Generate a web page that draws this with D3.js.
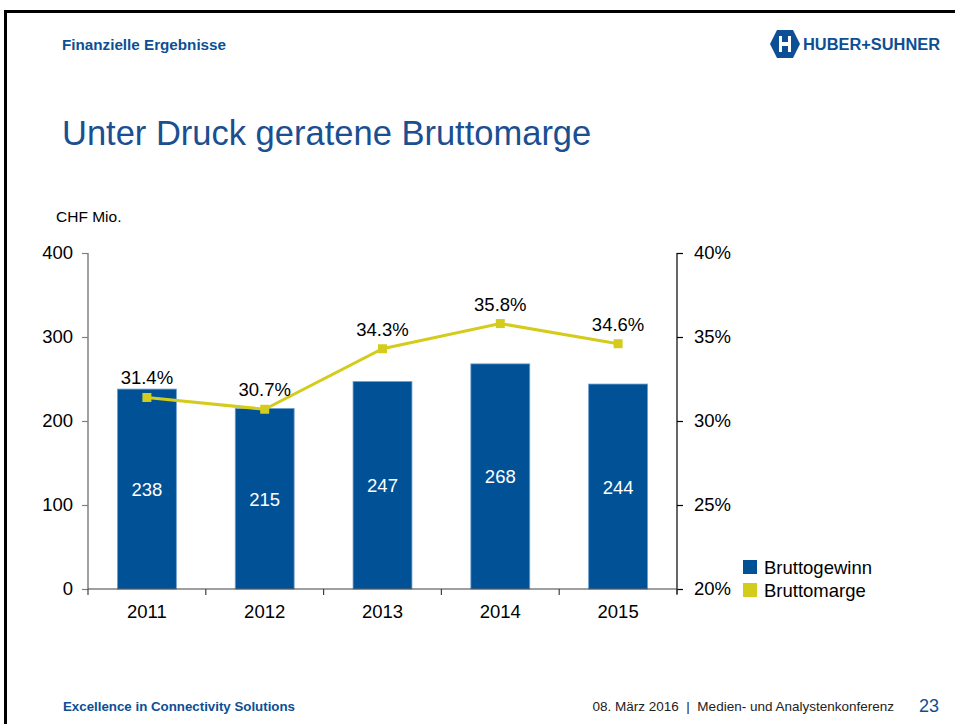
<!DOCTYPE html>
<html>
<head>
<meta charset="utf-8">
<script src="https://cdn.jsdelivr.net/npm/d3@7"></script>
<style>
  body { margin: 0; background: #fff; }
  svg { display: block; font-family: Arial, "Liberation Sans", sans-serif; }
</style>
</head>
<body>
<svg id="chart" width="955" height="724"></svg>
<script>
const years = ['2011', '2012', '2013', '2014', '2015']
const bruttogewinn = [238, 215, 247, 268, 244]
const bruttomarge = [31.4, 30.7, 34.3, 35.8, 34.6]
const leftTicks = [0, 100, 200, 300, 400]
const rightTicks = [20, 25, 30, 35, 40]
const legendLabels = ['Bruttogewinn', 'Bruttomarge']

const blue = '#005196'
const yellow = '#d4cc1c'
const textBlue = '#0d4f94'
const fs = '18.5px'

const svg = d3.select('#chart')
const margin = { left: 88, right: 677, top: 253, bottom: 589 }

// slide frame
svg.append('path')
  .attr('d', 'M5.5,724 L5.5,11.5 L955,11.5')
  .attr('fill', 'none')
  .attr('stroke', '#000')
  .attr('stroke-width', 3)

// header
svg.append('text')
  .attr('x', 62).attr('y', 50)
  .attr('fill', textBlue)
  .style('font-weight', 'bold')
  .style('font-size', '14px')
  .attr('textLength', 164)
  .attr('lengthAdjust', 'spacingAndGlyphs')
  .text('Finanzielle Ergebnisse')

// logo
const logo = svg.append('g').attr('transform', 'translate(770,30)')
logo.append('path')
  .attr('d', 'M7,0 L23,0 L30,14 L23,28 L7,28 L0,14 Z')
  .attr('fill', textBlue)
logo.append('path')
  .attr('d', 'M9,6 L12,6 L12,12 L18,12 L18,6 L21,6 L21,22 L18,22 L18,16 L12,16 L12,22 L9,22 Z')
  .attr('fill', '#fff')
logo.append('text')
  .attr('x', 33).attr('y', 20)
  .attr('fill', textBlue)
  .style('font-weight', 'bold')
  .style('font-size', '16px')
  .attr('textLength', 137)
  .attr('lengthAdjust', 'spacingAndGlyphs')
  .text('HUBER+SUHNER')

// title
svg.append('text')
  .attr('x', 62).attr('y', 145)
  .attr('fill', '#1a4f92')
  .style('font-size', '34.5px')
  .text('Unter Druck geratene Bruttomarge')

svg.append('text')
  .attr('x', 56).attr('y', 222)
  .attr('fill', '#000')
  .style('font-size', '15.5px')
  .text('CHF Mio.')

// scales
const x = d3.scaleBand()
  .domain(years)
  .range([margin.left, margin.right])
  .paddingInner(0.5)
  .paddingOuter(0.25)

const yLeft = d3.scaleLinear().domain([0, 400]).range([margin.bottom, margin.top])
const yRight = d3.scaleLinear().domain([20, 40]).range([margin.bottom, margin.top])

// bars
svg.append('g')
  .selectAll('rect')
  .data(years)
  .enter()
  .append('rect')
  .attr('x', d => x(d))
  .attr('width', x.bandwidth())
  .attr('y', (d, i) => yLeft(bruttogewinn[i]))
  .attr('height', (d, i) => yLeft(0) - yLeft(bruttogewinn[i]))
  .attr('fill', blue)
  .attr('stroke', '#6f9fd0')
  .attr('stroke-width', 0.8)

svg.append('g')
  .selectAll('text')
  .data(years)
  .enter()
  .append('text')
  .attr('x', d => x(d) + x.bandwidth() / 2)
  .attr('y', (d, i) => (yLeft(bruttogewinn[i]) + yLeft(0)) / 2 + 7)
  .attr('text-anchor', 'middle')
  .attr('fill', '#fff')
  .style('font-size', fs)
  .text((d, i) => bruttogewinn[i])

// left axis
const leftAxis = svg.append('g')
  .attr('transform', `translate(${margin.left},0)`)
  .call(d3.axisLeft(yLeft).tickValues(leftTicks).tickSize(6).tickPadding(9))
leftAxis.select('.domain').attr('stroke', '#808080').attr('stroke-width', 1.5).attr('d', `M0,${margin.top}V${margin.bottom}`)
leftAxis.selectAll('.tick line').attr('stroke', '#808080').attr('stroke-width', 1.2)
leftAxis.selectAll('.tick text')
  .attr('fill', '#000')
  .style('font-size', fs)
  .style('font-family', 'Arial, "Liberation Sans", sans-serif')

// right axis
const rightAxis = svg.append('g')
  .attr('transform', `translate(${margin.right},0)`)
  .call(d3.axisRight(yRight).tickValues(rightTicks).tickSize(6).tickPadding(11).tickFormat(d => d + '%'))
rightAxis.select('.domain').attr('stroke', '#000').attr('stroke-width', 1.2).attr('d', `M0,${margin.top}V${margin.bottom + 5}`)
rightAxis.selectAll('.tick line').attr('stroke', '#000').attr('stroke-width', 1.2)
rightAxis.selectAll('.tick text')
  .attr('fill', '#000')
  .style('font-size', fs)
  .style('font-family', 'Arial, "Liberation Sans", sans-serif')

// bottom axis
const bottomAxis = svg.append('g')
  .attr('transform', `translate(0,${margin.bottom})`)
  .call(d3.axisBottom(x).tickSize(0).tickPadding(16))
bottomAxis.select('.domain').attr('stroke', '#404040').attr('stroke-width', 1.2).attr('d', `M${margin.left},0H${margin.right}`)
bottomAxis.selectAll('.tick text')
  .attr('fill', '#000')
  .style('font-size', fs)
  .style('font-family', 'Arial, "Liberation Sans", sans-serif')

const step = x.step()
bottomAxis.selectAll('.sep')
  .data(d3.range(years.length + 1))
  .enter()
  .append('line')
  .attr('x1', i => margin.left + i * step)
  .attr('x2', i => margin.left + i * step)
  .attr('y1', 0).attr('y2', 6)
  .attr('stroke', '#404040')
  .attr('stroke-width', 1.2)

// line series
const cx = d => x(d) + x.bandwidth() / 2
const line = d3.line()
  .x((d, i) => cx(years[i]))
  .y(d => yRight(d))

svg.append('path')
  .datum(bruttomarge)
  .attr('d', line)
  .attr('fill', 'none')
  .attr('stroke', yellow)
  .attr('stroke-width', 3)

svg.append('g')
  .selectAll('rect')
  .data(bruttomarge)
  .enter()
  .append('rect')
  .attr('x', (d, i) => cx(years[i]) - 4.5)
  .attr('y', d => yRight(d) - 4.5)
  .attr('width', 9)
  .attr('height', 9)
  .attr('fill', yellow)

svg.append('g')
  .selectAll('text')
  .data(bruttomarge)
  .enter()
  .append('text')
  .attr('x', (d, i) => cx(years[i]))
  .attr('y', d => yRight(d) - 13)
  .attr('text-anchor', 'middle')
  .attr('fill', '#000')
  .style('font-size', fs)
  .text(d => d.toFixed(1) + '%')

// legend
const legend = svg.append('g').attr('transform', 'translate(743,560)')
legend.selectAll('rect')
  .data(legendLabels)
  .enter()
  .append('rect')
  .attr('x', 0)
  .attr('y', (d, i) => i * 23)
  .attr('width', 14)
  .attr('height', 14)
  .attr('fill', (d, i) => i === 0 ? blue : yellow)
legend.selectAll('text')
  .data(legendLabels)
  .enter()
  .append('text')
  .attr('x', 21)
  .attr('y', (d, i) => i * 23 + 14)
  .attr('fill', '#000')
  .style('font-size', fs)
  .text(d => d)

// footer
svg.append('text')
  .attr('x', 63).attr('y', 711)
  .attr('fill', textBlue)
  .style('font-weight', 'bold')
  .style('font-size', '13.3px')
  .attr('textLength', 232)
  .attr('lengthAdjust', 'spacingAndGlyphs')
  .text('Excellence in Connectivity Solutions')

svg.append('text')
  .attr('x', 894).attr('y', 711)
  .attr('text-anchor', 'end')
  .attr('fill', '#222')
  .style('font-size', '13.5px')
  .style('white-space', 'pre')
  .text('08. März 2016  |  Medien- und Analystenkonferenz')

svg.append('text')
  .attr('x', 919).attr('y', 712)
  .attr('fill', textBlue)
  .style('font-size', '18px')
  .text('23')
</script>
</body>
</html>
